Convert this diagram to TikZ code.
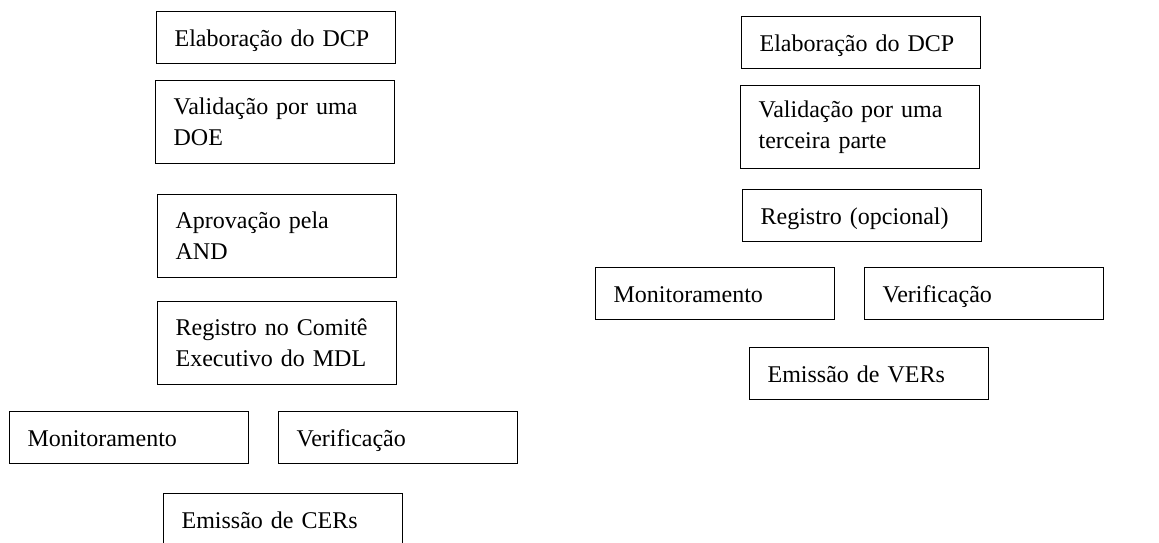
\documentclass[tikz,border=0pt]{standalone}
\usepackage{fontspec}
\setmainfont{Liberation Serif}
\usetikzlibrary{positioning}
\tikzset{
  etapa/.style={
    rectangle, draw=black, line width=0.6pt, anchor=north west,
    minimum width=119.5pt, minimum height=26pt,
    text width=101.5pt, inner xsep=9pt, inner ysep=0pt, align=left,
    text height=11pt, text depth=2pt,
    font=\fontsize{12}{15.5}\selectfont
  },
  etapadupla/.style={
    etapa, minimum height=41.5pt, text height=, text depth=
  }
}
\begin{document}
\begin{tikzpicture}[x=0.5pt, y=-0.5pt]
      \useasboundingbox (0,0) rectangle (1159,542);

      % Left column (MDL)
      \node[etapa] (elabMDL) at (156,11) {Elaboração do DCP};
      \node[etapadupla] (validMDL) at (155,80) {Validação por uma\\DOE};
      \node[etapadupla] (aprovMDL) at (157,194) {Aprovação pela\\AND};
      \node[etapadupla] (registroMDL) at (157,301) {Registro no Comitê\\Executivo do MDL};
      \node[etapa] (monitMDL) at (9,411) {Monitoramento};
      \node[etapa] (verifMDL) at (278,411) {Verificação};
      \node[etapa] (emissaoMDL) at (163,493) {Emissão de CERs};

      % Right column (voluntary market)
      \node[etapa] (elabVol) at (741,16) {Elaboração do DCP};
      \node[etapadupla] (validVol) at (740,85) {Validação por uma\\terceira parte};
      \node[etapa] (registroVol) at (742,189) {Registro (opcional)};
      \node[etapa] (monitVol) at (595,267) {Monitoramento};
      \node[etapa] (verifVol) at (864,267) {Verificação};
      \node[etapa] (emissaoVol) at (749,347) {Emissão de VERs};
\end{tikzpicture}
\end{document}
